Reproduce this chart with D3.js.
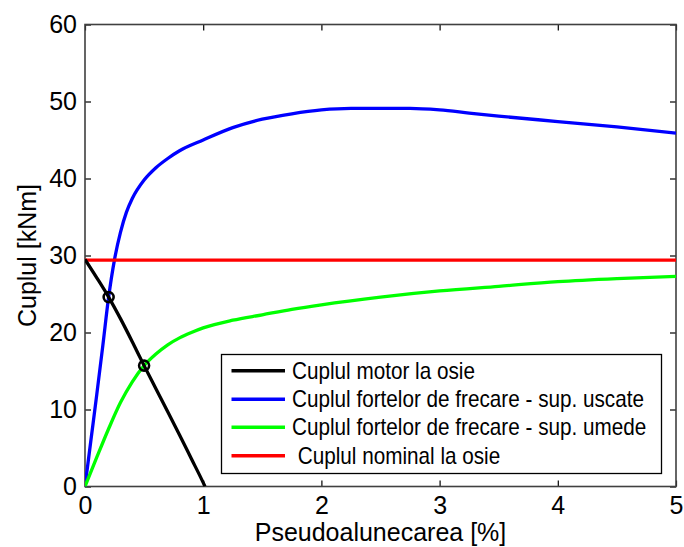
<!DOCTYPE html>
<html>
<head>
<meta charset="utf-8">
<script src="https://cdn.jsdelivr.net/npm/d3@7"></script>
<style>
  html, body { margin: 0; padding: 0; background: #fff; }
  svg { display: block; font-family: "Liberation Sans", Arial, sans-serif; }
</style>
</head>
<body>
<svg id="chart" width="684" height="547"></svg>
<script>
// Torque vs. slip: motor torque, adhesion torque (dry / wet rail), nominal axle torque
const slipMotor   = [0, 0.1, 0.2, 0.3, 0.4, 0.5, 0.6, 0.7, 0.8, 0.9, 1.0, 1.015];
const torqueMotor = [29.5, 27.1, 24.6, 21.8, 18.8, 15.7, 12.7, 9.7, 6.7, 3.6, 0.5, 0];

const slipDry   = [0, 0.05, 0.1, 0.15, 0.2, 0.25, 0.3, 0.35, 0.4, 0.5, 0.6, 0.7, 0.8, 1.0, 1.25, 1.5, 1.75, 2.0, 2.25, 2.5, 2.75, 3.0, 3.25, 3.5, 4.0, 4.5, 5.0];
const torqueDry = [0, 6.0, 12.0, 18.2, 24.6, 29.5, 33.0, 35.6, 37.4, 39.8, 41.4, 42.6, 43.6, 45.0, 46.6, 47.7, 48.4, 48.9, 49.1, 49.1, 49.1, 48.9, 48.5, 48.1, 47.4, 46.7, 45.9];

const slipWet   = [0, 0.1, 0.2, 0.3, 0.4, 0.5, 0.6, 0.7, 0.8, 0.9, 1.0, 1.25, 1.5, 1.75, 2.0, 2.5, 3.0, 3.5, 4.0, 4.5, 5.0];
const torqueWet = [0, 3.8, 7.5, 10.9, 13.6, 15.7, 17.2, 18.4, 19.3, 20.0, 20.6, 21.6, 22.3, 23.0, 23.6, 24.6, 25.4, 26.0, 26.6, 27.0, 27.3];

const slipNominal   = [0, 5];
const torqueNominal = [29.4, 29.4];

// operating points (motor curve crossing each adhesion curve)
const opSlip   = [0.2, 0.5];
const opTorque = [24.6, 15.7];

const xTicks = [0, 1, 2, 3, 4, 5];
const yTicks = [0, 10, 20, 30, 40, 50, 60];

const legendLabels = [
  "Cuplul motor la osie",
  "Cuplul fortelor de frecare - sup. uscate",
  "Cuplul fortelor de frecare - sup. umede",
  " Cuplul nominal la osie"
];
const legendColors = ["#000000", "#0000ff", "#00ff00", "#ff0000"];

const svg = d3.select("#chart");
const margin = { left: 85, top: 24.5, right: 8, bottom: 60.5 };
const W = 684, H = 547;
const x = d3.scaleLinear().domain([0, 5]).range([margin.left, W - margin.right]);
const y = d3.scaleLinear().domain([0, 60]).range([H - margin.bottom, margin.top]);

svg.append("defs").append("clipPath").attr("id", "plotClip")
  .append("rect")
  .attr("x", x(0)).attr("y", y(60))
  .attr("width", x(5) - x(0)).attr("height", y(0) - y(60));

const axisColor = "#404040";

// inward ticks on all four sides
const tickLen = 6;
function styleAxis(g) {
  g.select(".domain").remove();
  g.selectAll(".tick line").attr("stroke", "#000").attr("stroke-width", 1.2);
  g.selectAll(".tick text").attr("fill", "#000").style("font-size", "25px");
}
svg.append("g").attr("transform", `translate(0,${y(0)})`)
  .call(d3.axisBottom(x).tickValues(xTicks).tickSize(-tickLen).tickPadding(10).tickFormat(d3.format("d")))
  .call(styleAxis)
  .call(g => g.selectAll(".tick text").attr("dy", "0.71em"));
svg.append("g").attr("transform", `translate(0,${y(60)})`)
  .call(d3.axisTop(x).tickValues(xTicks).tickSize(-tickLen).tickFormat(""))
  .call(styleAxis);
svg.append("g").attr("transform", `translate(${x(0)},0)`)
  .call(d3.axisLeft(y).tickValues(yTicks).tickSize(-tickLen).tickPadding(8).tickFormat(d3.format("d")))
  .call(styleAxis);
svg.append("g").attr("transform", `translate(${x(5)},0)`)
  .call(d3.axisRight(y).tickValues(yTicks).tickSize(-tickLen).tickFormat(""))
  .call(styleAxis);

// axes box
svg.append("rect")
  .attr("x", x(0)).attr("y", y(60))
  .attr("width", x(5) - x(0)).attr("height", y(0) - y(60))
  .attr("fill", "none").attr("stroke", axisColor).attr("stroke-width", 1.6);

// curves
const plot = svg.append("g").attr("clip-path", "url(#plotClip)");
function drawCurve(xs, ys, color, curve) {
  const pts = xs.map((v, i) => [v, ys[i]]);
  plot.append("path")
    .attr("d", d3.line().x(d => x(d[0])).y(d => y(d[1])).curve(curve)(pts))
    .attr("fill", "none").attr("stroke", color).attr("stroke-width", 3.3)
    .attr("stroke-linejoin", "round");
}
drawCurve(slipDry, torqueDry, "#0000ff", d3.curveMonotoneX);
drawCurve(slipWet, torqueWet, "#00ff00", d3.curveMonotoneX);
drawCurve(slipNominal, torqueNominal, "#ff0000", d3.curveLinear);
drawCurve(slipMotor, torqueMotor, "#000000", d3.curveMonotoneX);

// operating point markers
svg.append("g").selectAll("circle")
  .data(opSlip.map((v, i) => [v, opTorque[i]]))
  .join("circle")
  .attr("cx", d => x(d[0])).attr("cy", d => y(d[1]))
  .attr("r", 5)
  .attr("fill", "none").attr("stroke", "#000").attr("stroke-width", 2.6);

// axis titles
svg.append("text")
  .attr("x", (x(0) + x(5)) / 2).attr("y", 541)
  .attr("text-anchor", "middle").style("font-size", "25px").attr("fill", "#000")
  .text("Pseudoalunecarea [%]");
svg.append("text")
  .attr("transform", `translate(36,${(y(0) + y(60)) / 2}) rotate(-90)`)
  .attr("text-anchor", "middle").style("font-size", "25px").attr("fill", "#000")
  .text("Cuplul [kNm]");

// legend
const lg = svg.append("g");
lg.append("rect")
  .attr("x", 221.5).attr("y", 354.5).attr("width", 440).attr("height", 119)
  .attr("fill", "#fff").attr("stroke", "#000").attr("stroke-width", 1.3);
const rowY = [370.7, 399.3, 427.3, 455.7];
legendLabels.forEach((label, i) => {
  lg.append("line")
    .attr("x1", 231.5).attr("x2", 285).attr("y1", rowY[i]).attr("y2", rowY[i])
    .attr("stroke", legendColors[i]).attr("stroke-width", 3.4);
  lg.append("text")
    .attr("transform", `translate(292,${rowY[i] + 8}) scale(0.9,1)`)
    .attr("xml:space", "preserve")
    .style("white-space", "pre")
    .style("font-size", "23px").attr("fill", "#000")
    .text(label);
});
</script>
</body>
</html>
